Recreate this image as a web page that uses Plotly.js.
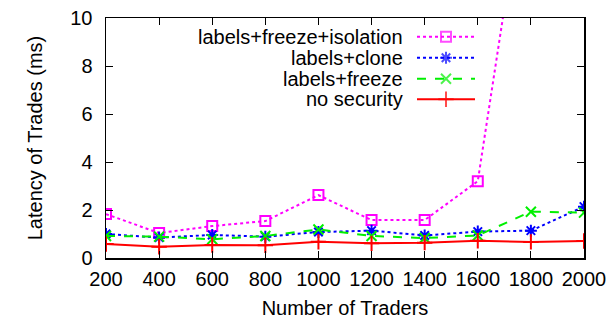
<!DOCTYPE html>
<html><head><meta charset="utf-8">
<script src="https://cdn.plot.ly/plotly-3.0.1.min.js"></script>
<style>html,body{margin:0;padding:0;background:#fff}#chart{width:614px;height:321px}</style>
</head><body><div id="chart"></div>
<script>
const traders = [200, 400, 600, 800, 1000, 1200, 1400, 1600, 1800, 2000];
const isolation = [1.83, 1.04, 1.33, 1.54, 2.62, 1.58, 1.58, 3.2, 17.6, 25];
const clone = [1.0, 0.85, 0.96, 0.89, 1.08, 1.14, 0.94, 1.1, 1.14, 2.14];
const freeze = [0.92, 0.89, 0.78, 0.92, 1.19, 0.92, 0.83, 0.94, 1.93, 1.89];
const nosec = [0.58, 0.47, 0.54, 0.53, 0.68, 0.61, 0.64, 0.72, 0.67, 0.71];
const names = ['labels+freeze+isolation', 'labels+clone', 'labels+freeze', 'no security'];
const series = [isolation, clone, freeze, nosec];
const colors = ['#ff00ff', '#0000ff', '#00f000', '#ff0000'];
const dashes = ['dot', 'dot', 'dash', 'solid'];
const symbols = ['square-open', 'asterisk-open', 'x-thin-open', 'cross-thin-open'];
const sizes = [10, 10, 10, 11];

const font = 'Liberation Sans, Arial, sans-serif';
const FS = 20;
const traces = [];
series.forEach((s, i) => {
  traces.push({
    x: traders, y: s, type: 'scatter', mode: 'lines+markers', showlegend: false,
    line: {color: colors[i], width: 2, dash: dashes[i]},
    marker: {symbol: symbols[i], size: sizes[i], color: colors[i], line: {color: colors[i], width: 2}}
  });
});
// legend samples on an overlay axis in pixel-like units
const rowY = [18.7, 39.7, 60.7, 81.3];
const annotations = [];
names.forEach((n, i) => {
  traces.push({
    x: [311, 340, 369], y: [rowY[i], rowY[i], rowY[i]], xaxis: 'x2', yaxis: 'y2',
    type: 'scatter', mode: 'lines+markers', showlegend: false, hoverinfo: 'skip',
    line: {color: colors[i], width: 2, dash: dashes[i]},
    marker: {symbol: symbols[i], size: [0, sizes[i], 0], color: colors[i], line: {color: colors[i], width: 2}}
  });
  annotations.push({
    text: n, xref: 'x2', yref: 'y2', x: 299, y: rowY[i], xanchor: 'right', yanchor: 'middle',
    showarrow: false, font: {family: font, size: FS, color: '#000'}
  });
});

const layout = {
  width: 614, height: 321,
  margin: {l: 106, r: 30, t: 18, b: 63},
  paper_bgcolor: '#fff', plot_bgcolor: '#fff',
  font: {family: font, size: FS, color: '#000'},
  showlegend: false,
  xaxis: {
    range: [200, 2000], tickvals: traders, ticks: 'inside', ticklen: 7, tickwidth: 1, tickcolor: '#000',
    showline: true, linecolor: '#000', linewidth: 1.5, mirror: 'allticks', showgrid: false, zeroline: false,
    ticklabelstandoff: 2,
    tickfont: {family: font, size: FS}, title: {text: 'Number of Traders', font: {family: font, size: FS}, standoff: 12}
  },
  yaxis: {
    range: [0, 10], tickvals: [0, 2, 4, 6, 8, 10], ticks: 'inside', ticklen: 7, tickwidth: 1, tickcolor: '#000',
    showline: true, linecolor: '#000', linewidth: 1.5, mirror: 'allticks', showgrid: false, zeroline: false,
    ticklabelstandoff: 8,
    tickfont: {family: font, size: FS}, title: {text: 'Latency of Trades (ms)', font: {family: font, size: FS}, standoff: 22}
  },
  xaxis2: {overlaying: 'x', range: [0, 478], visible: false, fixedrange: true},
  yaxis2: {overlaying: 'y', range: [240, 0], visible: false, fixedrange: true},
  annotations: annotations
};
Plotly.newPlot('chart', traces, layout, {staticPlot: true, displayModeBar: false});
</script></body></html>
